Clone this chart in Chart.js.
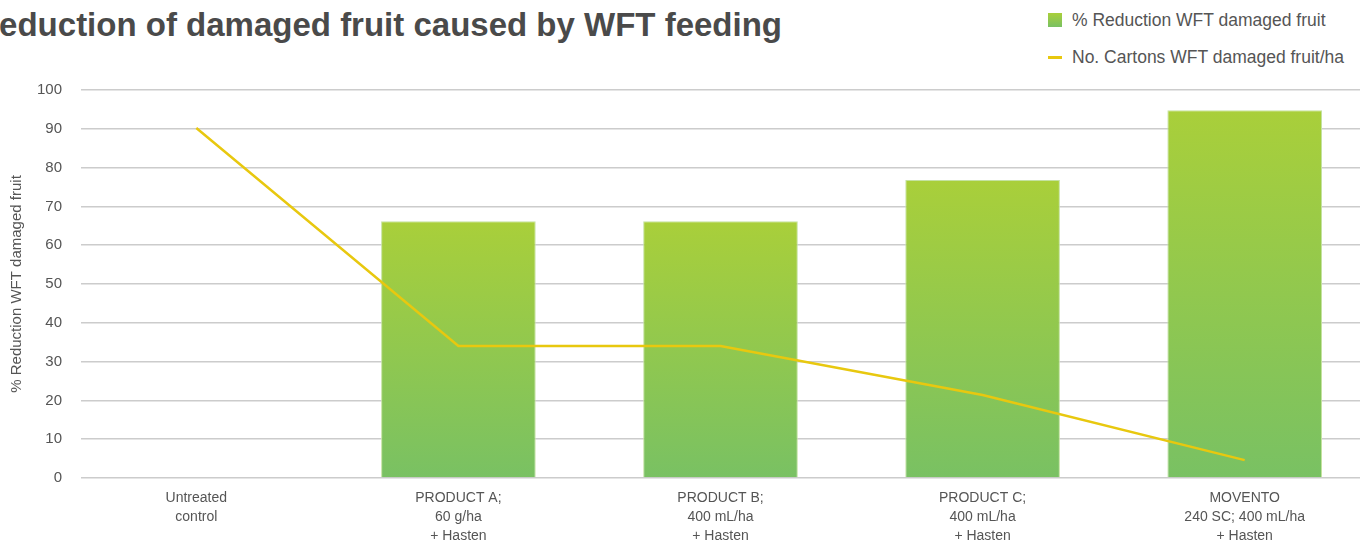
<!DOCTYPE html>
<html>
<head>
<meta charset="utf-8">
<script src="https://cdn.jsdelivr.net/npm/chart.js@4/dist/chart.umd.min.js"></script>
<style>
  html,body{margin:0;padding:0;background:#fff;overflow:hidden;}
  #wrap{position:relative;width:1370px;height:545px;overflow:hidden;font-family:"Liberation Sans",Arial,sans-serif;}
  #title{position:absolute;right:588px;top:6px;white-space:nowrap;font-weight:bold;font-size:33px;color:#4a4a4a;}
  #legend{position:absolute;left:1048px;top:7px;font-size:17.5px;color:#555;}
  #legend .it{display:flex;align-items:center;height:26px;margin-bottom:11px;}
  #legend .sw{width:14px;margin-right:10px;}
  canvas{position:absolute;left:0;top:0;}
</style>
</head>
<body>
<div id="wrap">
  <div id="title">% Reduction of damaged fruit caused by WFT feeding</div>
  <div id="legend"></div>
  <canvas id="myChart" width="1370" height="545"></canvas>
</div>
<script>
// data
const categories = [
  ['Untreated','control'],
  ['PRODUCT A;','60 g/ha','+ Hasten'],
  ['PRODUCT B;','400 mL/ha','+ Hasten'],
  ['PRODUCT C;','400 mL/ha','+ Hasten'],
  ['MOVENTO','240 SC; 400 mL/ha','+ Hasten']
];
const reductionPct = [0, 66.2, 66.2, 76.8, 94.8];
const cartons = [90.2, 34, 34, 21.4, 4.6];
const yTicks = [0,10,20,30,40,50,60,70,80,90,100];

const green1 = '#a9cf3a', green2 = '#79c163', yellow = '#e8c80f';

const ctx = document.getElementById('myChart').getContext('2d');
const myChart = new Chart(ctx, {
  type: 'bar',
  data: {
    datasets: [{
      type: 'line',
      label: 'No. Cartons WFT damaged fruit/ha',
      data: cartons.map((v,i)=>({x:i,y:v})),
      borderColor: yellow,
      backgroundColor: yellow,
      borderWidth: 2.5,
      pointRadius: 0,
      tension: 0,
      order: 0
    },{
      label: '% Reduction WFT damaged fruit',
      data: reductionPct.map((v,i)=>({x:i,y:v})),
      backgroundColor: (c)=>{
        const ch = c.chart;
        if (!ch.chartArea || c.type !== 'data') return green2;
        const y = ch.scales.y;
        const top = y.getPixelForValue(c.parsed.y), bot = y.getPixelForValue(0);
        if (!(bot > top)) return green2;
        const g = ch.ctx.createLinearGradient(0, top, 0, bot);
        g.addColorStop(0, green1);
        g.addColorStop(1, green2);
        return g;
      },
      borderColor: '#c4e2a0',
      borderWidth: 1,
      borderSkipped: 'bottom',
      barPercentage: 0.59,
      categoryPercentage: 1,
      order: 1
    }]
  },
  options: {
    responsive: false,
    animation: false,
    layout: { padding: { top: 90, right: 10, left: 0, bottom: 0 } },
    plugins: { legend: { display: false }, tooltip: { enabled: false } },
    scales: {
      x: {
        type: 'linear',
        offset: false,
        min: -0.44, max: 4.44,
        grid: { display: false },
        border: { display: false },
        afterFit: (s)=>{ s.height = 67; },
        ticks: {
          stepSize: 1,
          includeBounds: false,
          autoSkip: false,
          maxRotation: 0,
          padding: 3,
          color: '#555',
          font: { family: '"Liberation Sans", Arial, sans-serif', size: 14, lineHeight: 1.36 },
          callback: (v)=> Number.isInteger(v) && categories[v] ? categories[v] : ''
        }
      },
      y: {
        min: 0, max: 100,
        afterFit: (s)=>{ s.width = 81; },
        afterBuildTicks: (s)=>{ s.ticks = yTicks.map(v=>({value:v})); },
        grid: { color: '#cccccc', lineWidth: 1.5, drawTicks: false },
        border: { display: false },
        ticks: {
          padding: 19,
          color: '#555',
          font: { family: '"Liberation Sans", Arial, sans-serif', size: 15 }
        },
        title: {
          display: true,
          text: '% Reduction WFT damaged fruit',
          color: '#555',
          padding: { top: 8, bottom: 0 },
          font: { family: '"Liberation Sans", Arial, sans-serif', size: 15 }
        }
      }
    }
  }
});

// html legend, bars first
const leg = document.getElementById('legend');
[myChart.data.datasets[1], myChart.data.datasets[0]].forEach((ds)=>{
  const isLine = ds.type === 'line';
  const sw = isLine
    ? `<span class="sw" style="height:3px;background:${yellow}"></span>`
    : `<span class="sw" style="height:14px;background:linear-gradient(${green1},${green2})"></span>`;
  leg.insertAdjacentHTML('beforeend', `<div class="it">${sw}<span>${ds.label}</span></div>`);
});
</script>
</body>
</html>
